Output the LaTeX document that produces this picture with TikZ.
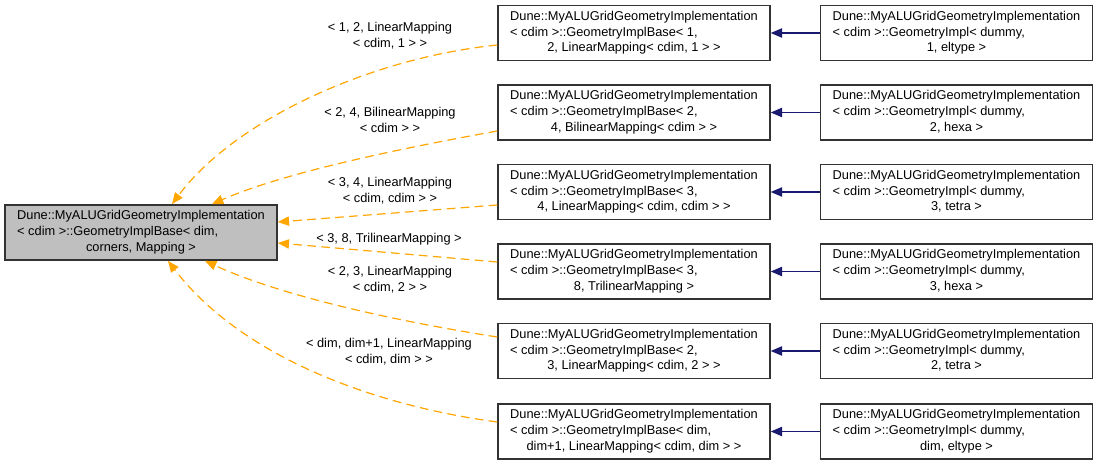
\documentclass[tikz,border=0pt]{standalone}
\usepackage{fontspec}
\setmainfont{Liberation Sans}
\usetikzlibrary{arrows.meta,calc}
\definecolor{EdgeClr}{rgb}{1,0.65,0}
\definecolor{LinkClr}{rgb}{0.1,0.1,0.44}
\definecolor{BaseClr}{rgb}{0.75,0.75,0.75}
\newcommand{\clsname}[3]{\begin{tabular}{@{}l@{}}#1\\#2\\\multicolumn{1}{@{}c@{}}{#3}\end{tabular}}

\begin{document}
\begin{tikzpicture}[x=0.75pt,y=-0.75pt,
  every node/.style={font=\fontsize{9.6}{11.8}\selectfont},
  cls/.style={draw=black!80,line width=1.1pt,minimum width=204pt,minimum height=41.5pt,inner sep=0pt},
  inh/.style={EdgeClr,line width=0.9pt,dash pattern=on 6.5pt off 4pt,-{Triangle[length=8.5pt,width=7pt]}},
  lnk/.style={LinkClr,line width=0.9pt,-{Triangle[length=8.5pt,width=7pt]}}]
\useasboundingbox (0,0) rectangle (1097,467);

\node[cls,fill=BaseClr] (Base) at (141,232.5) {\clsname{Dune::MyALUGridGeometryImplementation}{< cdim >::GeometryImplBase< dim,}{corners, Mapping >}};

\node[cls] (M1) at (634,33) {\clsname{Dune::MyALUGridGeometryImplementation}{< cdim >::GeometryImplBase< 1,}{2, LinearMapping< cdim, 1 > >}};
\node[cls] (M2) at (634,112.5) {\clsname{Dune::MyALUGridGeometryImplementation}{< cdim >::GeometryImplBase< 2,}{4, BilinearMapping< cdim > >}};
\node[cls] (M3) at (634,192) {\clsname{Dune::MyALUGridGeometryImplementation}{< cdim >::GeometryImplBase< 3,}{4, LinearMapping< cdim, cdim > >}};
\node[cls] (M4) at (634,271.5) {\clsname{Dune::MyALUGridGeometryImplementation}{< cdim >::GeometryImplBase< 3,}{8, TrilinearMapping >}};
\node[cls] (M5) at (634,351) {\clsname{Dune::MyALUGridGeometryImplementation}{< cdim >::GeometryImplBase< 2,}{3, LinearMapping< cdim, 2 > >}};
\node[cls] (M6) at (634,431.5) {\clsname{Dune::MyALUGridGeometryImplementation}{< cdim >::GeometryImplBase< dim,}{dim+1, LinearMapping< cdim, dim > >}};

\node[cls] (R1) at (956.5,33) {\clsname{Dune::MyALUGridGeometryImplementation}{< cdim >::GeometryImpl< dummy,}{1, eltype >}};
\node[cls] (R2) at (956.5,112.5) {\clsname{Dune::MyALUGridGeometryImplementation}{< cdim >::GeometryImpl< dummy,}{2, hexa >}};
\node[cls] (R3) at (956.5,192) {\clsname{Dune::MyALUGridGeometryImplementation}{< cdim >::GeometryImpl< dummy,}{3, tetra >}};
\node[cls] (R4) at (956.5,271.5) {\clsname{Dune::MyALUGridGeometryImplementation}{< cdim >::GeometryImpl< dummy,}{3, hexa >}};
\node[cls] (R5) at (956.5,351) {\clsname{Dune::MyALUGridGeometryImplementation}{< cdim >::GeometryImpl< dummy,}{2, tetra >}};
\node[cls] (R6) at (956.5,431.5) {\clsname{Dune::MyALUGridGeometryImplementation}{< cdim >::GeometryImpl< dummy,}{dim, eltype >}};

\draw[inh] ($(M1.west)+(0,12)$) .. controls (370,58) and (235,120) .. ($(Base.north)+(31,0)$);
\draw[inh] ($(M2.west)+(0,18.5)$) .. controls (420,145) and (290,170) .. ($(Base.north)+(71,0)$);
\draw[inh] ($(M3.west)+(0,13)$) -- ($(Base.east)+(0,-10.5)$);
\draw[inh] ($(M4.west)+(0,-9.5)$) -- ($(Base.east)+(0,10.5)$);
\draw[inh] ($(M5.west)+(0,-14)$) .. controls (420,325) and (290,300) .. ($(Base.south)+(64,0)$);
\draw[inh] ($(M6.west)+(0,-9.5)$) .. controls (370,405) and (240,355) .. ($(Base.south)+(27,0)$);

\node[align=center] (L1) at (390,36) {< 1, 2, LinearMapping\\< cdim, 1 > >};
\node[align=center] (L2) at (390,120) {< 2, 4, BilinearMapping\\< cdim > >};
\node[align=center] (L3) at (390,191) {< 3, 4, LinearMapping\\< cdim, cdim > >};
\node[align=center] (L4) at (389,239) {< 3, 8, TrilinearMapping >};
\node[align=center] (L5) at (390,279.5) {< 2, 3, LinearMapping\\< cdim, 2 > >};
\node[align=center] (L6) at (389,352) {< dim, dim+1, LinearMapping\\< cdim, dim > >};

\draw[lnk] (R1.west) -- (M1.east);
\draw[lnk] (R2.west) -- (M2.east);
\draw[lnk] (R3.west) -- (M3.east);
\draw[lnk] (R4.west) -- (M4.east);
\draw[lnk] (R5.west) -- (M5.east);
\draw[lnk] (R6.west) -- (M6.east);

\end{tikzpicture}
\end{document}
